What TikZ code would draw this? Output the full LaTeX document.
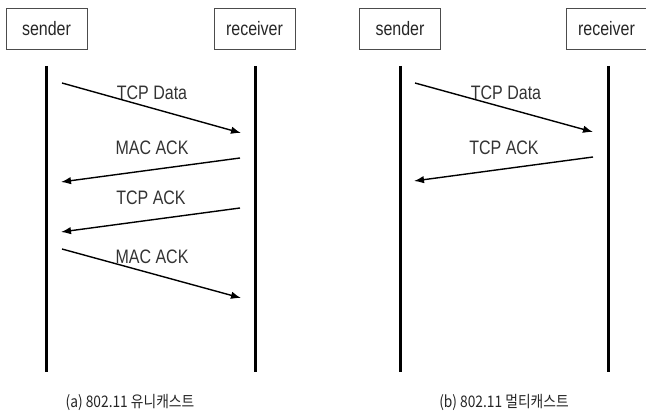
\documentclass[tikz,border=0pt]{standalone}
\usepackage{fontspec}
\usepackage{graphicx}
\setmainfont{Liberation Sans}
\newfontfamily\krfont{Noto Sans CJK KR}
\usetikzlibrary{arrows.meta}
% tall, slightly condensed lettering
\newcommand{\tallText}[1]{\scalebox{0.97}[1.18]{#1}}
\tikzset{
  actor/.style={draw=black!70, line width=0.9pt, minimum width=81pt, minimum height=41pt,
    inner sep=0pt, font=\fontsize{16.5}{18}\selectfont, text=black!85},
  lifeline/.style={line width=3pt, black},
  msg/.style={line width=1.4pt, black, -{Latex[length=10pt,width=7.5pt]}},
  msglabel/.style={font=\fontsize{16.5}{18}\selectfont, text=black!80, inner sep=0pt},
  caption/.style={font=\krfont\fontsize{14.5}{16}\selectfont, text=black!85, inner sep=0pt}
}
\begin{document}
\begin{tikzpicture}[x=1pt,y=-1pt]
  \useasboundingbox (0,0) rectangle (646,419);

  % ---- (a) unicast ----
  \node[actor] (sa) at (46.5,28.5) {\tallText{sender}};
  \node[actor] (ra) at (254.5,28.5) {\tallText{receiver}};
  \coordinate (satop) at (46.5,66);  \coordinate (sabot) at (46.5,372);
  \coordinate (ratop) at (255,66);   \coordinate (rabot) at (255,372);
  \draw[lifeline] (satop) -- (sabot);
  \draw[lifeline] (ratop) -- (rabot);

  \coordinate (a1s) at (62,83);   \coordinate (a1e) at (241,133);
  \coordinate (a2s) at (240,158); \coordinate (a2e) at (61,182);
  \coordinate (a3s) at (240,208); \coordinate (a3e) at (61,232);
  \coordinate (a4s) at (62,249);  \coordinate (a4e) at (241,298);
  \draw[msg] (a1s) -- (a1e);
  \draw[msg] (a2s) -- (a2e);
  \draw[msg] (a3s) -- (a3e);
  \draw[msg] (a4s) -- (a4e);
  \node[msglabel] (la1) at (152,93) {\tallText{TCP Data}};
  \node[msglabel] (la2) at (152,148) {\tallText{MAC ACK}};
  \node[msglabel] (la3) at (151,198) {\tallText{TCP ACK}};
  \node[msglabel] (la4) at (152,257) {\tallText{MAC ACK}};

  \node[caption] (capa) at (130,402) {\scalebox{0.95}[1.1]{(a) 802.11 유니캐스트}};

  % ---- (b) multicast ----
  \node[actor] (sb) at (400,28.5) {\tallText{sender}};
  \node[actor] (rb) at (606.5,28.5) {\tallText{receiver}};
  \coordinate (sbtop) at (400,66);  \coordinate (sbbot) at (400,372);
  \coordinate (rbtop) at (608,66);  \coordinate (rbbot) at (608,372);
  \draw[lifeline] (sbtop) -- (sbbot);
  \draw[lifeline] (rbtop) -- (rbbot);

  \coordinate (b1s) at (415,83);  \coordinate (b1e) at (593,132);
  \coordinate (b2s) at (593,157); \coordinate (b2e) at (414,181);
  \draw[msg] (b1s) -- (b1e);
  \draw[msg] (b2s) -- (b2e);
  \node[msglabel] (lb1) at (506,93) {\tallText{TCP Data}};
  \node[msglabel] (lb2) at (504,148) {\tallText{TCP ACK}};

  \node[caption] (capb) at (504,402) {\scalebox{0.95}[1.1]{(b) 802.11 멀티캐스트}};
\end{tikzpicture}
\end{document}
